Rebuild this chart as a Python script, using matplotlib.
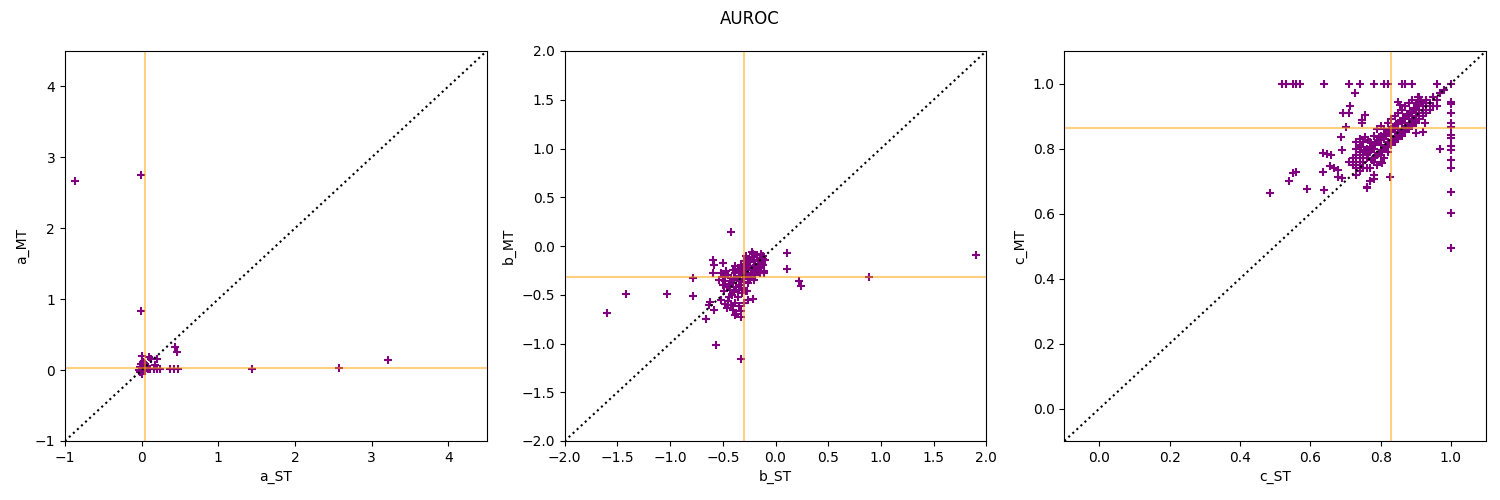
import numpy as np
import matplotlib
matplotlib.use("Agg")
import matplotlib.pyplot as plt

# panel a
a_st = [-0.87, -0.01, -0.01, 0.00, 0.09, 0.12, 0.20, 0.18, 0.44, 0.46,
        0.00, 0.05, 0.11, 0.16, 0.20, 0.24, 0.37, 0.42, 0.48,
        -0.02, 0.02, -0.02, 0.00, 0.03, 0.06, -0.01, 0.01, 0.04, 0.08, 0.02,
        -0.03, 0.00, 0.05, 1.44, 2.57, 3.21]
a_mt = [2.66, 2.75, 0.83, 0.20, 0.19, 0.15, 0.15, 0.07, 0.33, 0.26,
        0.01, 0.01, 0.01, 0.01, 0.01, 0.01, 0.01, 0.01, 0.01,
        0.05, 0.07, -0.02, 0.03, 0.10, 0.04, 0.08, -0.04, -0.01, 0.02, 0.12,
        0.00, -0.05, 0.09, 0.01, 0.035, 0.14]
a_st_line = 0.046
a_mt_line = 0.034

# panel b
b_st = [-1.60, -1.42, -1.03, -0.78, -0.78, -0.56, -0.33, -0.42, 1.90, 0.89,
        0.11, 0.11, 0.22, 0.24, -0.59, -0.585, -0.50, -0.59, -0.62, -0.63,
        -0.58, -0.66, -0.38, -0.33, -0.45, -0.21, -0.27, -0.21, -0.12, -0.11,
        -0.12, -0.15, -0.18, -0.20, -0.22, -0.13, -0.16, -0.19, -0.24, -0.26,
        -0.14, -0.17, -0.21, -0.25, -0.28, -0.30, -0.23, -0.27, -0.31, -0.33,
        -0.19, -0.24, -0.29, -0.34, -0.36, -0.12, -0.10, -0.15, -0.20, -0.26,
        -0.31, -0.35, -0.38, -0.40, -0.22, -0.17, -0.28, -0.32, -0.27, -0.11,
        -0.42, -0.45, -0.48, -0.44, -0.40, -0.37, -0.50, -0.52, -0.47, -0.43,
        -0.39, -0.35, -0.33, -0.30, -0.46, -0.41, -0.36, -0.32, -0.28, -0.50,
        -0.54, -0.49, -0.44, -0.45, -0.42, -0.38, -0.48, -0.40, -0.35, -0.37,
        -0.33, -0.46, -0.52, -0.30, -0.26, -0.16, -0.14, -0.24, -0.34, -0.38,
        -0.35, -0.30, -0.25, -0.19, -0.22, -0.43, -0.39, -0.29, -0.18, -0.13]
b_mt = [-0.69, -0.49, -0.49, -0.33, -0.51, -1.02, -1.16, 0.14, -0.09, -0.32,
        -0.075, -0.24, -0.36, -0.41, -0.14, -0.19, -0.17, -0.28, -0.57, -0.61,
        -0.66, -0.75, -0.71, -0.73, -0.61, -0.54, -0.46, -0.08, -0.13, -0.28,
        -0.10, -0.12, -0.09, -0.14, -0.11, -0.16, -0.18, -0.20, -0.16, -0.13,
        -0.22, -0.25, -0.23, -0.20, -0.18, -0.15, -0.28, -0.25, -0.22, -0.19,
        -0.30, -0.33, -0.30, -0.27, -0.24, -0.19, -0.14, -0.28, -0.35, -0.38,
        -0.34, -0.31, -0.28, -0.25, -0.06, -0.15, -0.10, -0.27, -0.29, -0.26,
        -0.33, -0.30, -0.36, -0.40, -0.38, -0.42, -0.32, -0.28, -0.26, -0.45,
        -0.47, -0.45, -0.40, -0.43, -0.42, -0.50, -0.52, -0.48, -0.46, -0.40,
        -0.35, -0.46, -0.52, -0.56, -0.60, -0.58, -0.59, -0.66, -0.62, -0.70,
        -0.67, -0.64, -0.55, -0.58, -0.55, -0.21, -0.08, -0.31, -0.36, -0.21,
        -0.35, -0.37, -0.33, -0.26, -0.30, -0.36, -0.33, -0.21, -0.22, -0.12]
b_st_line = -0.303
b_mt_line = -0.318

# panel c
c_st = [0.52, 0.53, 0.55, 0.56, 0.57, 0.64, 0.71, 0.74, 0.78, 0.81,
        0.82, 0.86, 0.87, 0.89, 0.96, 1.00,
        1.00, 1.00, 1.00, 1.00, 1.00, 1.00, 1.00, 1.00, 1.00, 1.00,
        1.00, 1.00, 1.00, 1.00,
        0.727, 0.713, 0.692, 0.71, 0.756, 0.746, 0.746, 0.702, 0.687, 0.636,
        0.647, 0.66, 0.69, 0.636, 0.657, 0.667, 0.68, 0.55, 0.56, 0.54,
        0.486, 0.59, 0.64, 0.68, 0.69, 0.76, 0.78, 0.827, 0.85, 0.855,
        0.905, 0.92, 0.93, 0.926, 0.92, 0.90, 0.97,
        0.78, 0.79, 0.80, 0.80, 0.81, 0.82, 0.82, 0.83, 0.83, 0.84,
        0.84, 0.85, 0.85, 0.86, 0.86, 0.87, 0.87, 0.88, 0.88, 0.89,
        0.89, 0.90, 0.90, 0.91, 0.91, 0.92, 0.92, 0.93, 0.94, 0.95,
        0.77, 0.77, 0.78, 0.79, 0.80, 0.81, 0.79, 0.80, 0.81, 0.82,
        0.76, 0.76, 0.75, 0.78, 0.79, 0.80, 0.81, 0.82, 0.83, 0.84,
        0.85, 0.86, 0.87, 0.88, 0.89, 0.90, 0.83, 0.84, 0.85, 0.86,
        0.87, 0.88, 0.89, 0.90, 0.91, 0.93, 0.94, 0.95, 0.96, 0.97,
        0.98, 0.92, 0.91, 0.93, 0.96,
        0.73, 0.73, 0.73, 0.73, 0.73, 0.73, 0.74, 0.74, 0.74, 0.74,
        0.74, 0.74, 0.75, 0.75, 0.75, 0.76, 0.72, 0.72, 0.71, 0.77,
        0.78, 0.77, 0.76,
        0.775, 0.785, 0.795, 0.805, 0.815, 0.825, 0.835, 0.845, 0.855, 0.865,
        0.875, 0.885, 0.895, 0.905, 0.915, 0.775, 0.785, 0.795, 0.805, 0.815,
        0.825, 0.835, 0.845, 0.855, 0.865, 0.875, 0.885, 0.895, 0.765, 0.755,
        0.745, 0.765, 0.755, 0.795, 0.805]
c_mt = [1.00, 1.00, 1.00, 1.00, 1.00, 1.00, 1.00, 1.00, 1.00, 1.00,
        1.00, 1.00, 1.00, 1.00, 1.00, 1.00,
        0.944, 0.936, 0.910, 0.877, 0.867, 0.842, 0.831, 0.809, 0.795, 0.765,
        0.741, 0.667, 0.602, 0.495,
        0.97, 0.931, 0.91, 0.91, 0.903, 0.888, 0.878, 0.865, 0.836, 0.787,
        0.784, 0.78, 0.795, 0.729, 0.745, 0.74, 0.735, 0.725, 0.729, 0.70,
        0.664, 0.675, 0.673, 0.711, 0.71, 0.683, 0.705, 0.713, 0.944, 0.935,
        0.957, 0.93, 0.95, 0.877, 0.85, 0.847, 0.80,
        0.80, 0.82, 0.81, 0.84, 0.83, 0.85, 0.82, 0.86, 0.84, 0.87,
        0.85, 0.86, 0.88, 0.88, 0.86, 0.89, 0.87, 0.90, 0.88, 0.91,
        0.89, 0.92, 0.90, 0.93, 0.91, 0.92, 0.94, 0.95, 0.94, 0.96,
        0.79, 0.82, 0.84, 0.78, 0.78, 0.80, 0.86, 0.87, 0.86, 0.88,
        0.80, 0.77, 0.78, 0.76, 0.75, 0.76, 0.77, 0.79, 0.81, 0.82,
        0.83, 0.84, 0.85, 0.86, 0.87, 0.88, 0.89, 0.90, 0.91, 0.92,
        0.93, 0.94, 0.95, 0.94, 0.96, 0.93, 0.92, 0.93, 0.95, 0.97,
        0.98, 0.90, 0.89, 0.91, 0.93,
        0.72, 0.74, 0.76, 0.78, 0.80, 0.82, 0.73, 0.75, 0.77, 0.79,
        0.81, 0.83, 0.74, 0.76, 0.82, 0.74, 0.77, 0.75, 0.76, 0.74,
        0.72, 0.70, 0.68,
        0.805, 0.815, 0.825, 0.835, 0.845, 0.855, 0.865, 0.875, 0.885, 0.895,
        0.905, 0.915, 0.925, 0.935, 0.945, 0.765, 0.775, 0.785, 0.795, 0.805,
        0.815, 0.825, 0.835, 0.845, 0.855, 0.865, 0.875, 0.885, 0.785, 0.795,
        0.805, 0.825, 0.835, 0.835, 0.755]
c_st_line = 0.83
c_mt_line = 0.863

panels = [
    ("a", a_st, a_mt, a_st_line, a_mt_line, (-1, 4.5)),
    ("b", b_st, b_mt, b_st_line, b_mt_line, (-2, 2)),
    ("c", c_st, c_mt, c_st_line, c_mt_line, (-0.1, 1.1)),
]

fig, axes = plt.subplots(1, 3, figsize=(15, 5))
fig.suptitle("AUROC")
fig.subplots_adjust(left=0.0433, right=0.9907, top=0.898, bottom=0.118, wspace=0.185)

for ax, (name, st, mt, st_line, mt_line, lims) in zip(axes, panels):
    ax.scatter(st, mt, marker="+", color="purple")
    ax.plot(lims, lims, "k:")
    ax.axvline(st_line, color="orange", alpha=0.5)
    ax.axhline(mt_line, color="orange", alpha=0.5)
    ax.set_xlim(lims)
    ax.set_ylim(lims)
    ax.set_xlabel(name + "_ST")
    ax.set_ylabel(name + "_MT")

fig.savefig("out.png", dpi=100)
